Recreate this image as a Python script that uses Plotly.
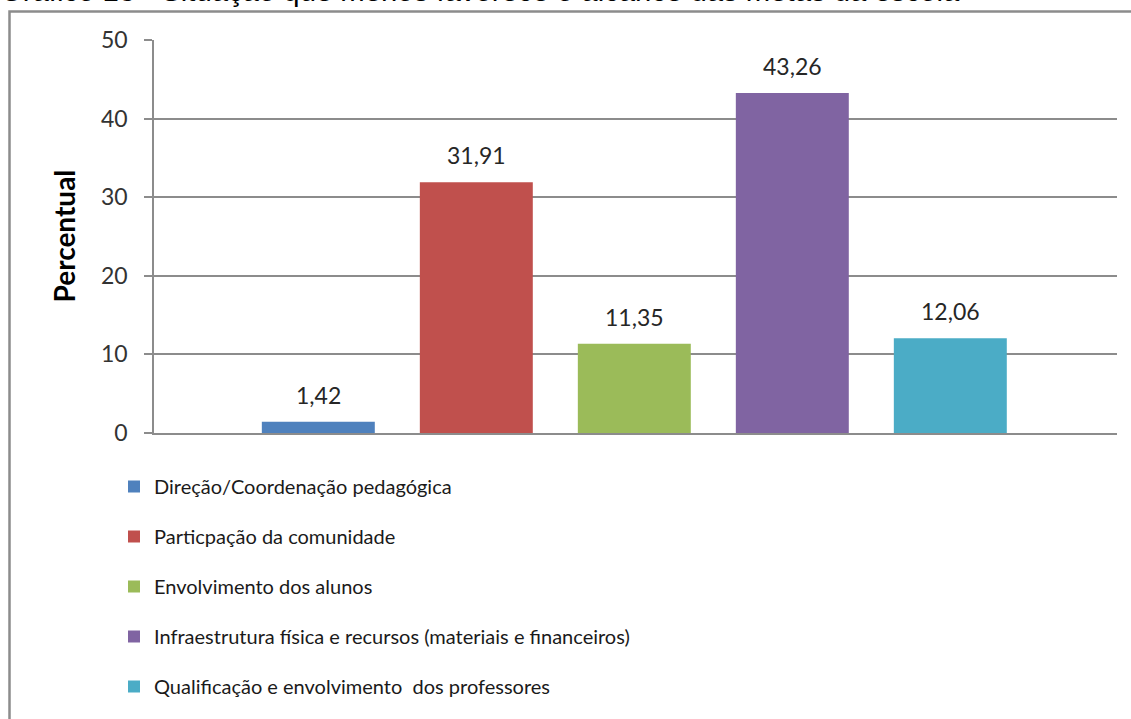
import plotly.graph_objects as go

categories = [
    "Direção/Coordenação pedagógica",
    "Particpação da comunidade",
    "Envolvimento dos alunos",
    "Infraestrutura física e recursos (materiais e financeiros)",
    "Qualificação e envolvimento  dos professores",
]
values = [1.42, 31.91, 11.35, 43.26, 12.06]
colors = ["#4F81BD", "#C0504D", "#9BBB59", "#8064A2", "#4BACC6"]
y_ticks = [0, 10, 20, 30, 40, 50]
title_text = "Gráfico 13 - Situação que menos favorece o alcance das metas da escola"
y_title = "Percentual"

W, H = 1131, 719
L, R, T, B = 154, 14, 40, 286
pw, ph = W - L - R, H - T - B

def px_x(p):
    return (p - L) / pw

def px_y(p):
    return (H - B - p) / ph

fig = go.Figure()
for i, (c, v, col) in enumerate(zip(categories, values, colors)):
    fig.add_trace(go.Bar(
        x=[c], y=[v], name=c, marker=dict(color=col, line=dict(width=0)),
        width=0.715, legendgroup=f"g{i}", hoverinfo="x+y",
    ))
    fig.add_annotation(
        x=c, y=v, xref="x", yref="y", text=f"{v:.2f}".replace(".", ","),
        showarrow=False, yanchor="middle", yshift=27,
        font=dict(family="Lato", size=23, color="#262626"),
    )

fig.add_annotation(
    xref="paper", yref="paper", x=px_x(-2), y=px_y(9), xanchor="left", yanchor="bottom",
    text=title_text, showarrow=False,
    font=dict(family="Liberation Sans", size=29.3, color="#000000"),
)

fig.add_annotation(
    xref="paper", yref="paper", x=px_x(63), y=0.5, xanchor="center", yanchor="middle",
    text=f"<b>{y_title}</b>", textangle=-90, showarrow=False,
    font=dict(family="Lato", size=28, color="#000000"),
)

fig.add_shape(
    type="rect", xref="paper", yref="paper",
    x0=px_x(9.5), x1=px_x(1160), y0=px_y(760), y1=px_y(11.5),
    line=dict(color="#8c8c8c", width=2.5), fillcolor="rgba(0,0,0,0)", layer="above",
)

fig.update_layout(
    width=W, height=H,
    margin=dict(l=L, r=R, t=T, b=B, pad=0, autoexpand=False),
    paper_bgcolor="white", plot_bgcolor="white",
    barmode="relative",
    showlegend=True,
    legend=dict(
        xref="container", yref="container",
        x=114 / W, xanchor="left", y=1 - 467 / H, yanchor="top",
        font=dict(family="Lato", size=20, color="#1a1a1a"),
        tracegroupgap=21, bgcolor="rgba(0,0,0,0)",
    ),
    xaxis=dict(
        categoryorder="array", categoryarray=categories,
        range=[-1.04, 5.055], showticklabels=False, showgrid=False,
        showline=True, linecolor="#8c8c8c", linewidth=1.5, ticks="", zeroline=False,
        fixedrange=True, automargin=False,
    ),
    yaxis=dict(
        range=[0, 50], tickvals=y_ticks, showgrid=True, gridcolor="#8c8c8c", gridwidth=1.5,
        showline=True, linecolor="#8c8c8c", linewidth=1.5, ticks="outside", ticklen=8,
        tickcolor="#8c8c8c", tickwidth=1.5, zeroline=False, automargin=False,
        tickfont=dict(family="Lato", size=23, color="#333333"), ticklabelstandoff=12,
    ),
)

fig.write_html("out.html", config={"displayModeBar": False},
               post_script="document.body.style.margin='0';")
